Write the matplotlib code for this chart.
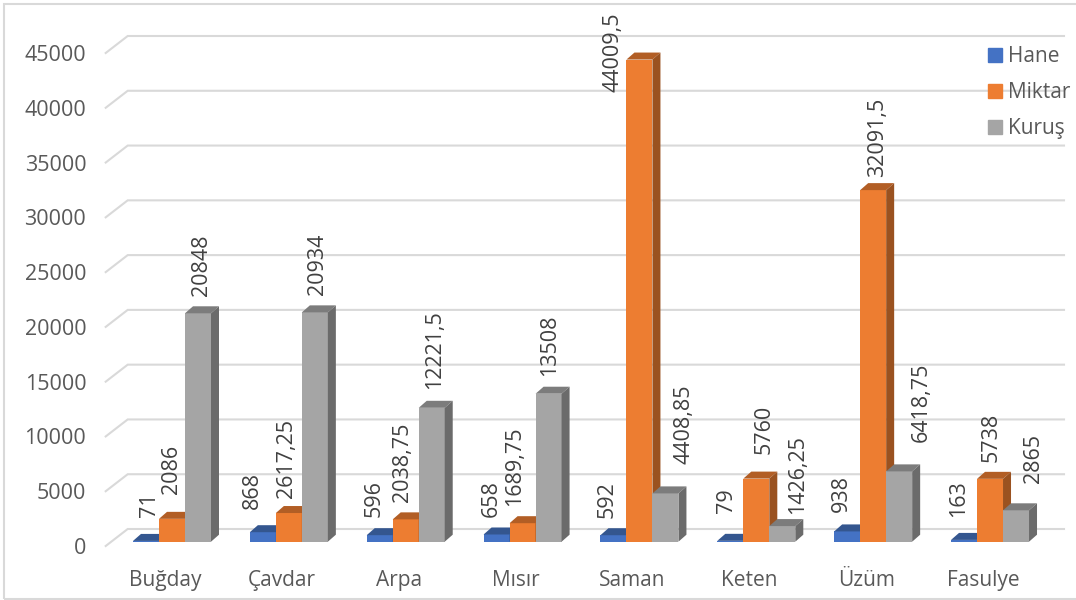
import matplotlib
matplotlib.use("Agg")
import matplotlib.pyplot as plt
import matplotlib.patches as patches
import numpy as np

plt.rcParams['font.family'] = ['Open Sans', 'DejaVu Sans']

categories = ["Buğday", "Çavdar", "Arpa", "Mısır", "Saman", "Keten", "Üzüm", "Fasulye"]
hane = [71, 868, 596, 658, 592, 79, 938, 163]
miktar = [2086, 2617.25, 2038.75, 1689.75, 44009.5, 5760, 32091.5, 5738]
kurus = [20848, 20934, 12221.5, 13508, 4408.85, 1426.25, 6418.75, 2865]
yticks = [0, 5000, 10000, 15000, 20000, 25000, 30000, 35000, 40000, 45000]

series = [hane, miktar, kurus]
names = ["Hane", "Miktar", "Kuruş"]
front = ["#4472C4", "#ED7D31", "#A5A5A5"]
top = ["#34568F", "#B25E25", "#7C7C7C"]
side = ["#2F4F86", "#9A5220", "#6B6B6B"]

# label offsets from top centre of each bar, in pixels (dx, dy)
label_off = [
    [(3, 24), (-10, 23), (-6, 18), (-5, 17), (-6, 17), (-4, 28), (-6, 19), (-5, 23)],
    [(0, 25), (-2, 15), (-3, 17), (-8, 17), (-26, -32), (8, 25), (4, 13), (1, 17)],
    [(3, 17), (3, 17), (3, 19), (1, 18), (19, 29), (15, 12), (22, 29), (17, 27)],
]

W, H = 1076, 600
step = 116.86
first_px = 165.0
left_px, right_px = 105.7, 1064.0
base_px, top_px = 546.0, 53.0

fig = plt.figure(figsize=(W / 100, H / 100), dpi=100)
ax = fig.add_axes([left_px / W, 1 - base_px / H, (right_px - left_px) / W, (base_px - top_px) / H])
ax.set_xlim((left_px - first_px) / step, (right_px - first_px) / step)
ax.set_ylim(0, 45000)
for s in ax.spines.values():
    s.set_visible(False)
ax.patch.set_visible(False)

px_x = 1 / step
px_y = 45000 / (base_px - top_px)

# chart border
fig.patches.append(patches.Rectangle((4 / W, 1 / H), (W + 10) / W, (H - 5) / H, transform=fig.transFigure,
                                     fill=False, ec="#D9D9D9", lw=1.5))

# back wall lines
x0 = ax.get_xlim()[0]
x1 = ax.get_xlim()[1]
for v in yticks:
    ax.plot([x0, x0 + 22 * px_x, x1], [v, v + 17 * px_y, v + 17 * px_y], color="#D9D9D9", lw=1.5,
            clip_on=False, zorder=1, solid_joinstyle="miter")

bw = 26 * px_x
dx = 8 * px_x
dy = 7 * px_y
base = 4.3 * px_y
x = np.arange(len(categories)) + 7 * px_x

for i, vals in enumerate(series):
    xs = x + (i - 1) * bw
    ax.bar(xs, vals, bw, bottom=base, color=front[i], clip_on=False, zorder=3 + i)
    for j, v in enumerate(vals):
        l = xs[j] - bw / 2
        r = xs[j] + bw / 2
        t = base + v
        ax.add_patch(patches.Polygon([(l, t), (r, t), (r + dx, t + dy), (l + dx, t + dy)], fc=top[i], ec="none",
                                     clip_on=False, zorder=3 + i))
        ax.add_patch(patches.Polygon([(r, base), (r + dx, base + dy), (r + dx, t + dy), (r, t)], fc=side[i], ec="none",
                                     clip_on=False, zorder=3 + i))
        lab = f"{v:g}".replace(".", ",")
        off = label_off[i][j]
        ax.annotate(lab, (xs[j], t), xytext=off, textcoords="offset pixels", rotation=90, ha="center", va="bottom",
                    fontsize=15.5, color="#404040", zorder=10, annotation_clip=False)

ax.set_xticks(np.arange(len(categories)))
ax.set_xticklabels(categories, fontsize=15, color="#595959")
ax.set_yticks(yticks)
ax.set_yticklabels([str(v) for v in yticks], fontsize=15.5, color="#595959")
ax.tick_params(axis="both", length=0)
ax.tick_params(axis="x", pad=17.5)
ax.tick_params(axis="y", pad=14)

handles = [patches.Patch(color=c, label=n) for c, n in zip(front, names)]
fig.legend(handles=handles, loc="upper left", bbox_to_anchor=(982 / W, 1 - 40 / H), frameon=False, fontsize=15,
           handlelength=0.67, handleheight=0.67, labelspacing=0.72, handletextpad=0.3, borderpad=0.3,
           labelcolor="#595959", borderaxespad=0)

fig.savefig("out.png", dpi=100)
